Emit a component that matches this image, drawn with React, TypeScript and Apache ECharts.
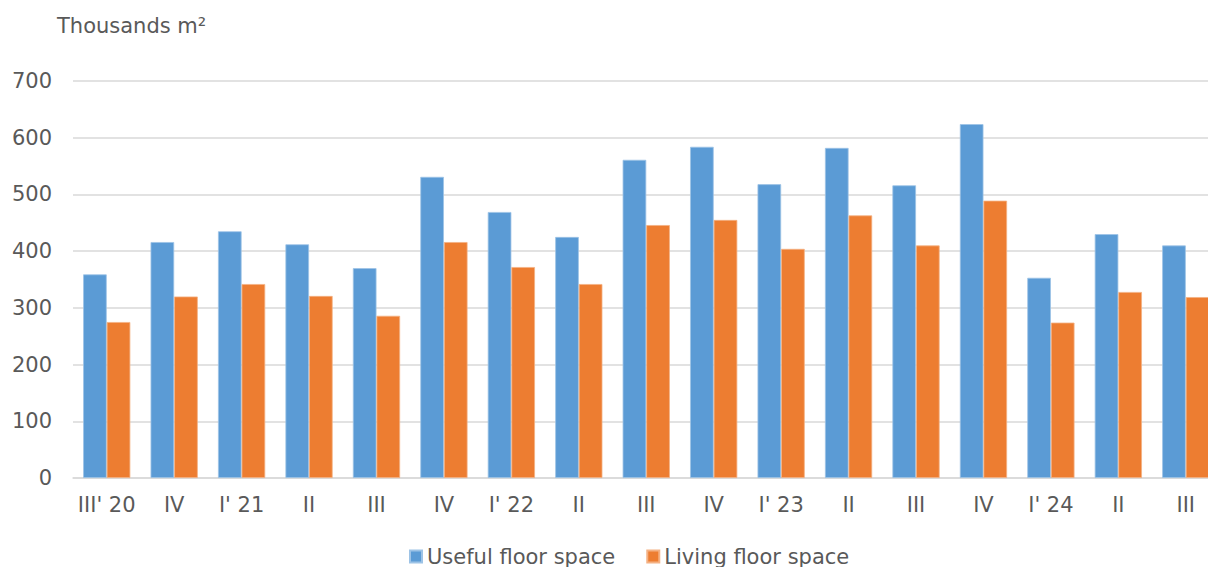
import React, { useEffect, useRef } from "react";
import * as echarts from "echarts";

const categories = ["III' 20", "IV", "I' 21", "II", "III", "IV", "I' 22", "II", "III", "IV", "I' 23", "II", "III", "IV", "I' 24", "II", "III"];
const usefulFloor = [359, 416, 435, 412, 370, 531, 469, 425, 561, 584, 518, 582, 516, 624, 353, 430, 410];
const livingFloor = [275, 320, 342, 321, 286, 416, 372, 342, 446, 455, 404, 463, 410, 489, 274, 328, 319];
const seriesNames = ["Useful floor space", "Living floor space"];
const unitLabel = "Thousands m²";

export default function App() {
  const ref = useRef<HTMLDivElement>(null);
  useEffect(() => {
    document.body.style.margin = "0";
    document.body.style.overflow = "hidden";
    const chart = echarts.init(ref.current!, null, { renderer: "svg" });
    const font = "'DejaVu Sans', Verdana, sans-serif";
    const txt = "#595959";
    chart.setOption({
      animation: false,
      backgroundColor: "#ffffff",
      textStyle: { fontFamily: font },
      grid: { left: 73, top: 81, width: 1146.5, height: 397, containLabel: false },
      graphic: [
        {
          type: "text",
          left: 57,
          top: 15,
          style: { text: unitLabel, font: `21px ${font}`, fill: txt },
        },
      ],
      legend: {
        bottom: -5,
        left: 404,
        itemWidth: 12,
        itemHeight: 12,
        itemGap: 31,
        icon: "rect",
        textStyle: { fontSize: 21, color: txt, fontFamily: font },
        data: seriesNames,
      },
      xAxis: {
        type: "category",
        data: categories,
        axisLine: { lineStyle: { color: "#d9d9d9", width: 1.5 } },
        axisTick: { show: false },
        axisLabel: { fontSize: 21, color: txt, margin: 16, fontFamily: font, interval: 0 },
      },
      yAxis: {
        type: "value",
        min: 0,
        max: 700,
        interval: 100,
        axisLine: { show: false },
        axisTick: { show: false },
        axisLabel: { fontSize: 21, color: txt, margin: 21, fontFamily: font },
        splitLine: { lineStyle: { color: "#d9d9d9", width: 1.5 } },
      },
      series: [
        {
          name: seriesNames[0],
          type: "bar",
          data: usefulFloor,
          barGap: "0%",
          barCategoryGap: "30%",
          itemStyle: { color: "#5B9BD5", borderColor: "#9DC3E6", borderWidth: 0.8 },
        },
        {
          name: seriesNames[1],
          type: "bar",
          data: livingFloor,
          barGap: "0%",
          barCategoryGap: "30%",
          itemStyle: { color: "#ED7D31", borderColor: "#F4B183", borderWidth: 0.8 },
        },
      ],
    });
    return () => chart.dispose();
  }, []);
  return (
    <div style={{ position: "fixed", left: 0, top: 0, width: 1208, height: 567, overflow: "hidden" }}>
      <div ref={ref} style={{ width: 1222, height: 567 }} />
    </div>
  );
}
